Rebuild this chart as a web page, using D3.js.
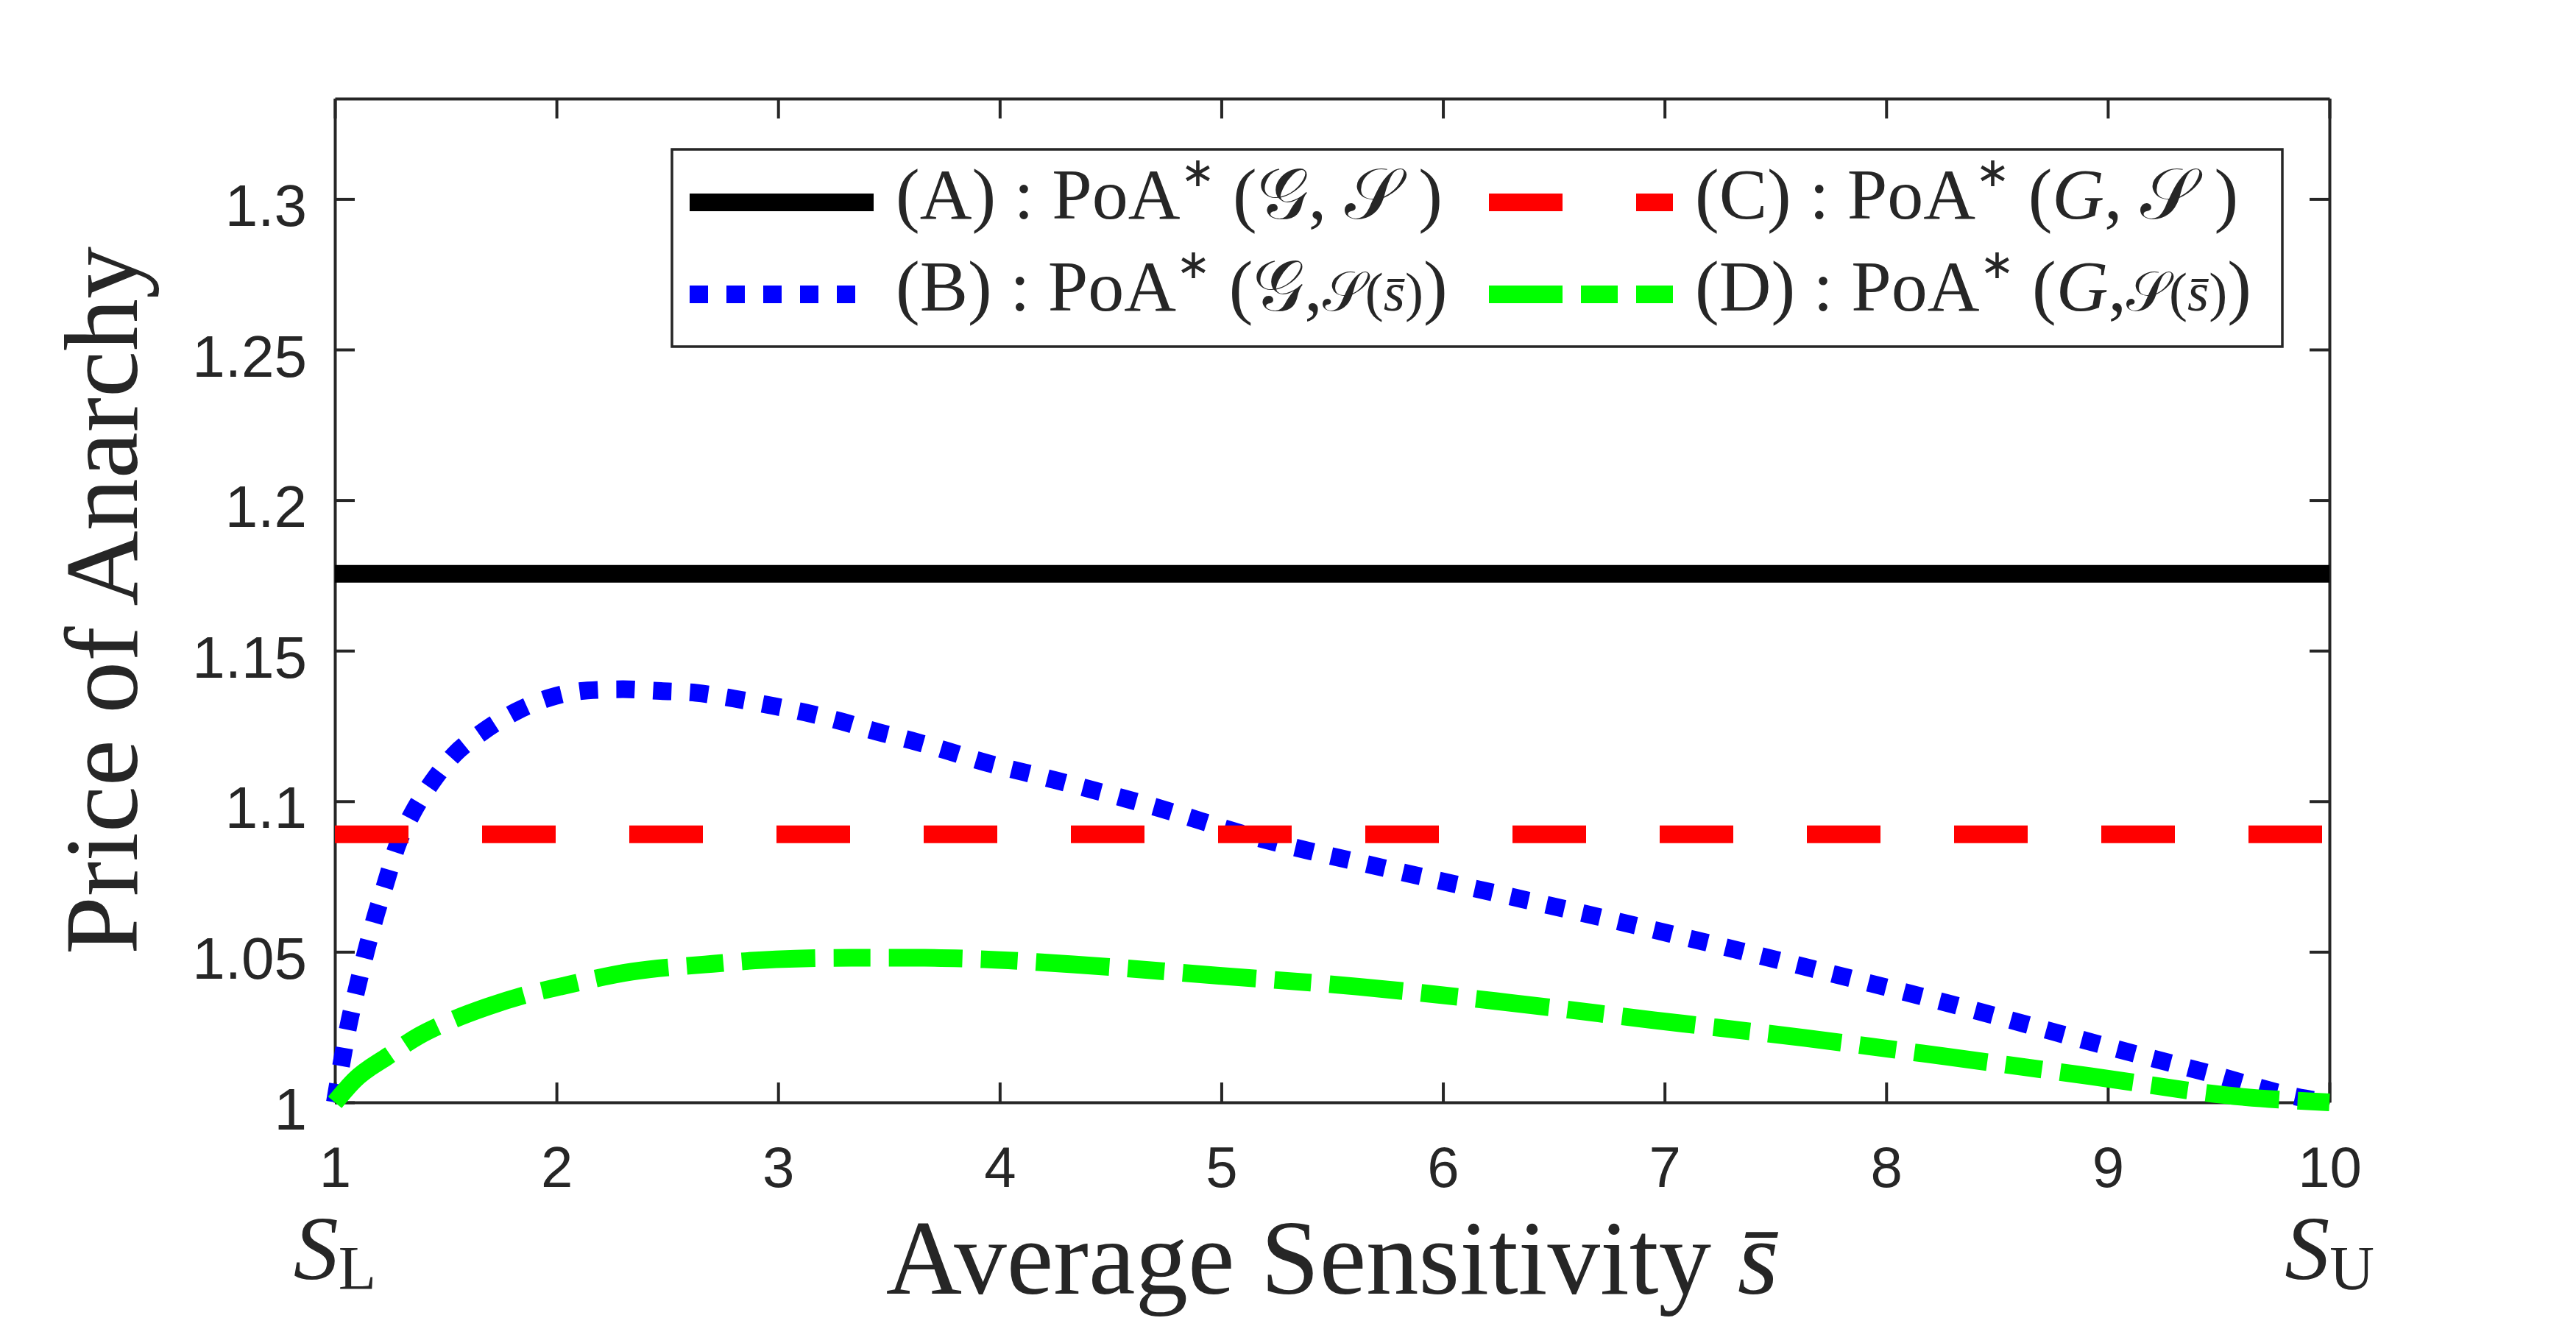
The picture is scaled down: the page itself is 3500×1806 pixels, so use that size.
<!DOCTYPE html>
<html>
<head>
<meta charset="utf-8">
<script src="https://cdn.jsdelivr.net/npm/d3@7"></script>
<style>
  body { margin: 0; background: #fff; }
  text { fill: #262626; }
</style>
</head>
<body>
<svg id="chart" width="3500" height="1806"></svg>
<script>
// curve (B): PoA*(G, S(s))
const sB = [1, 1.03, 1.06, 1.10, 1.14, 1.18, 1.23, 1.28, 1.35, 1.44, 1.54, 1.67, 1.82, 1.97, 2.14, 2.30, 2.47, 2.63, 2.80, 2.96, 3.12, 3.28, 3.44, 3.60, 3.76, 3.91, 4.23, 4.71, 5.14, 5.74, 6.38, 7.03, 7.67, 8.32, 8.96, 9.45, 9.89, 10];
const poaB = [1.000, 1.013, 1.025, 1.038, 1.050, 1.061, 1.073, 1.085, 1.096, 1.1065, 1.1156, 1.1232, 1.1299, 1.1344, 1.1368, 1.1372, 1.1366, 1.1360, 1.1341, 1.1319, 1.1295, 1.1266, 1.1232, 1.1202, 1.1168, 1.1134, 1.1074, 1.0979, 1.0883, 1.0777, 1.0671, 1.0559, 1.0443, 1.0321, 1.0193, 1.0098, 1.0013, 1.000];

// curve (D): PoA*(G, S(s)) for the simple game
const sD = [1, 1.09, 1.24, 1.38, 1.50, 1.69, 1.85, 2.02, 2.34, 2.67, 2.99, 3.33, 3.66, 3.93, 4.33, 4.98, 5.62, 6.30, 6.95, 7.63, 8.28, 8.92, 9.61, 10];
const poaD = [1.000, 1.0075, 1.0154, 1.0221, 1.0264, 1.0318, 1.0355, 1.0385, 1.0434, 1.0458, 1.0475, 1.0480, 1.0480, 1.0475, 1.0458, 1.0421, 1.0384, 1.0331, 1.0273, 1.0214, 1.0151, 1.0087, 1.0018, 1.000];

// constant bounds (A) and (C)
const sAC = [1, 10];
const poaA = [1.1755, 1.1755];
const poaC = [1.089, 1.089];

const xTicks = [1, 2, 3, 4, 5, 6, 7, 8, 9, 10];
const yTicks = [1, 1.05, 1.1, 1.15, 1.2, 1.25, 1.3];
const yTickLabels = ["1", "1.05", "1.1", "1.15", "1.2", "1.25", "1.3"];

const svg = d3.select("#chart");
const mLeft = 455, mRight = 3165, mTop = 134, mBottom = 1498;
const ink = "#262626";

const x = d3.scaleLinear().domain([1, 10]).range([mLeft, mRight]);
const y = d3.scaleLinear().domain([1, 4 / 3]).range([mBottom, mTop]);

// axes, ticks pointing inward on all four sides
function styleAxis(g) {
  g.select(".domain").attr("stroke", ink).attr("stroke-width", 4);
  g.selectAll(".tick line").attr("stroke", ink).attr("stroke-width", 4);
  g.selectAll(".tick text").attr("fill", ink);
}

svg.append("g")
  .attr("transform", `translate(0,${mBottom})`)
  .call(d3.axisBottom(x).tickValues(xTicks).tickSizeInner(-27).tickSizeOuter(0).tickPadding(60))
  .call(styleAxis)
  .selectAll("text").attr("font-family", "Liberation Sans, Arial, sans-serif").attr("font-size", 78);

svg.append("g")
  .attr("transform", `translate(0,${mTop})`)
  .call(d3.axisTop(x).tickValues(xTicks).tickSizeInner(-27).tickSizeOuter(0).tickFormat(""))
  .call(styleAxis);

svg.append("g")
  .attr("transform", `translate(${mLeft},0)`)
  .call(d3.axisLeft(y).tickValues(yTicks).tickSizeInner(-27).tickSizeOuter(0).tickPadding(38)
    .tickFormat((d, i) => yTickLabels[i]))
  .call(styleAxis)
  .selectAll("text").attr("font-family", "Liberation Sans, Arial, sans-serif").attr("font-size", 80)
  .attr("dy", "0.45em");

svg.append("g")
  .attr("transform", `translate(${mRight},0)`)
  .call(d3.axisRight(y).tickValues(yTicks).tickSizeInner(-27).tickSizeOuter(0).tickFormat(""))
  .call(styleAxis);

// series
const line = d3.line().x(d => x(d[0])).y(d => y(d[1])).curve(d3.curveMonotoneX);
const series = [
  { s: sAC, v: poaA, color: "#000000", dash: null },
  { s: sB, v: poaB, color: "#0000FF", dash: "25,25" },
  { s: sAC, v: poaC, color: "#FF0000", dash: "100,100" },
  { s: sD, v: poaD, color: "#00FF00", dash: "100,25,50,25" }
];

series.forEach(sr => {
  svg.append("path")
    .datum(d3.zip(sr.s, sr.v))
    .attr("d", line)
    .attr("fill", "none")
    .attr("stroke", sr.color)
    .attr("stroke-width", 24)
    .attr("stroke-dasharray", sr.dash);
});

// axis labels
const serif = "Liberation Serif, Times New Roman, serif";
const xl = svg.append("text")
  .attr("x", (mLeft + mRight) / 2).attr("y", 1758)
  .attr("text-anchor", "middle")
  .attr("font-family", serif).attr("font-size", 143);
xl.append("tspan").text("Average Sensitivity ");
xl.append("tspan").attr("font-style", "italic").text("s\u0304");

svg.append("text")
  .attr("transform", `translate(186,${(mTop + mBottom) / 2}) rotate(-90)`)
  .attr("text-anchor", "middle")
  .attr("font-family", serif).attr("font-size", 142)
  .text("Price of Anarchy");

// S_L and S_U under the ends of the axis
[["L", 1], ["U", 10]].forEach(([sub, v]) => {
  const t = svg.append("text")
    .attr("x", x(v)).attr("y", 1738)
    .attr("text-anchor", "middle")
    .attr("font-family", serif);
  t.append("tspan").attr("font-style", "italic").attr("font-size", 122).text("S");
  t.append("tspan").attr("font-size", 84).attr("dy", 14).text(sub);
});

// legend
const lg = svg.append("g");
lg.append("rect")
  .attr("x", 913).attr("y", 203).attr("width", 3101 - 913).attr("height", 471 - 203)
  .attr("fill", "#fff").attr("stroke", ink).attr("stroke-width", 3.5);

const legendItems = [
  { key: "A", game: "\u{1D4A2}", gameItalic: false, small: false, col: 0, row: 0, si: 0 },
  { key: "B", game: "\u{1D4A2}", gameItalic: false, small: true, col: 0, row: 1, si: 1 },
  { key: "C", game: "G", gameItalic: true, small: false, col: 1, row: 0, si: 2 },
  { key: "D", game: "G", gameItalic: true, small: true, col: 1, row: 1, si: 3 }
];
const colX = [937, 2023];
const rowY = [297, 422];

legendItems.forEach(it => {
  const sr = series[it.si];
  const x0 = colX[it.col], yb = rowY[it.row];
  lg.append("line")
    .attr("x1", x0).attr("x2", x0 + 250)
    .attr("y1", yb - 22).attr("y2", yb - 22)
    .attr("stroke", sr.color).attr("stroke-width", 24)
    .attr("stroke-dasharray", sr.dash);
  const t = lg.append("text")
    .attr("x", x0 + 280).attr("y", yb)
    .attr("font-family", serif).attr("font-size", 98);
  t.append("tspan").text(`(${it.key}) : PoA`);
  t.append("tspan").attr("font-size", 56).attr("dy", -44).text("\u2217");
  t.append("tspan").attr("dy", 44).text(" (");
  t.append("tspan").attr("font-style", it.gameItalic ? "italic" : null).text(it.game);
  if (it.small) {
    t.append("tspan").text(",");
    t.append("tspan").attr("font-size", 75).text("\u{1D4AE}(");
    t.append("tspan").attr("font-size", 75).attr("font-style", "italic").text("s\u0304");
    t.append("tspan").attr("font-size", 75).text(")");
    t.append("tspan").text(")");
  } else {
    t.append("tspan").text(", \u{1D4AE} )");
  }
});
</script>
</body>
</html>
